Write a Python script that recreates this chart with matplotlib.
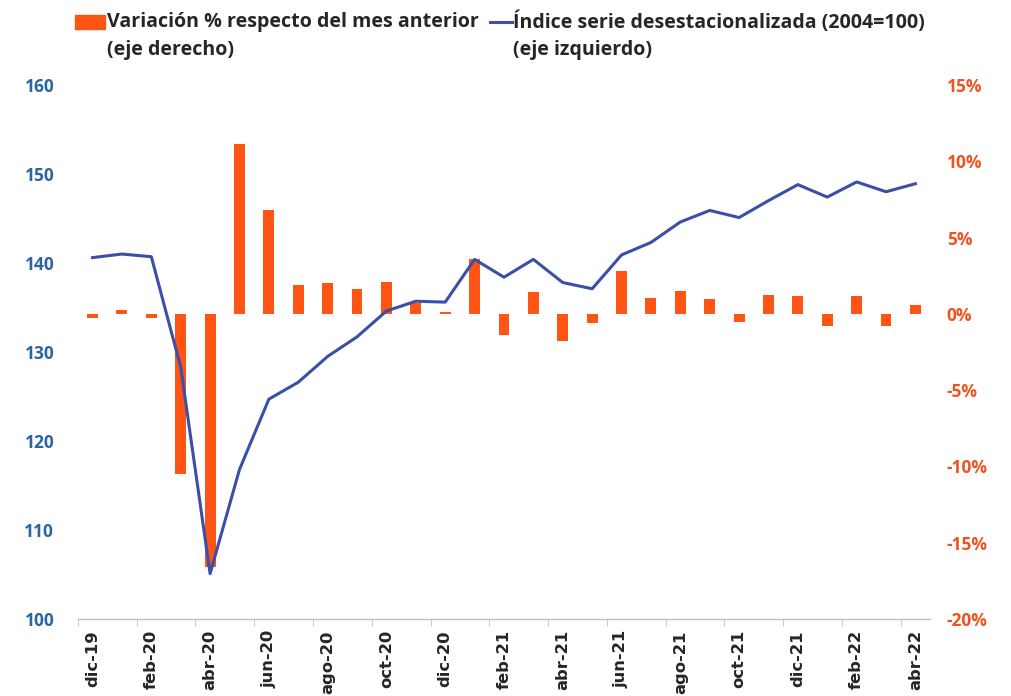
import matplotlib
matplotlib.use("Agg")
import matplotlib.pyplot as plt
from matplotlib.patches import Rectangle
from matplotlib.lines import Line2D
from matplotlib.ticker import FuncFormatter
import numpy as np

MONTHS = ['dic-19', 'ene-20', 'feb-20', 'mar-20', 'abr-20', 'may-20', 'jun-20',
          'jul-20', 'ago-20', 'sep-20', 'oct-20', 'nov-20', 'dic-20', 'ene-21',
          'feb-21', 'mar-21', 'abr-21', 'may-21', 'jun-21', 'jul-21', 'ago-21',
          'sep-21', 'oct-21', 'nov-21', 'dic-21', 'ene-22', 'feb-22', 'mar-22',
          'abr-22']

# seasonally adjusted index (2004=100), left axis
INDEX = [140.6, 141.0, 140.7, 128.3, 105.1, 116.8, 124.7, 126.6, 129.5, 131.7,
         134.6, 135.7, 135.6, 140.4, 138.4, 140.4, 137.8, 137.1, 140.9, 142.3,
         144.6, 145.9, 145.1, 147.0, 148.8, 147.4, 149.1, 148.0, 148.9]

# month-on-month change (%), right axis
VAR_PCT = [-0.3, 0.25, -0.3, -10.5, -16.6, 11.1, 6.8, 1.9, 2.0, 1.6,
           2.1, 0.7, 0.1, 3.6, -1.4, 1.4, -1.8, -0.6, 2.8, 1.05,
           1.5, 0.95, -0.55, 1.25, 1.2, -0.8, 1.15, -0.8, 0.55]

BAR_COLOR = '#FF5413'
LINE_COLOR = '#3B4FA6'
LEFT_TXT = '#2B65A4'
RIGHT_TXT = '#EE5420'
LEG_FONT = dict(fontsize=14.1, fontweight='bold', color='#262626', va='center',
                family='Open Sans')

x = np.arange(len(MONTHS))

fig = plt.figure(figsize=(10.11, 6.96), dpi=100)
ax_bar = fig.add_axes([0.077, 0.1106, 0.843, 0.7674])
ax_line = ax_bar.twinx()

ax_bar.bar(x, np.array(VAR_PCT) / 100, width=0.37, color=BAR_COLOR, zorder=2)
ax_line.plot(x, INDEX, color=LINE_COLOR, linewidth=2.2, zorder=3)

ax_bar.set_xlim(-0.5, len(MONTHS) - 0.5)
ax_bar.set_ylim(-0.20, 0.15)
ax_line.set_ylim(100, 160)

# right axis = bars, left axis = line
ax_bar.yaxis.tick_right()
ax_line.yaxis.tick_left()
ax_bar.set_yticks(np.arange(-0.20, 0.151, 0.05))
ax_bar.yaxis.set_major_formatter(FuncFormatter(lambda v, p: f'{round(v*100):d}%'))
ax_line.set_yticks(np.arange(100, 161, 10))

for a in (ax_bar, ax_line):
    for s in ('left', 'right', 'top'):
        a.spines[s].set_visible(False)
ax_line.spines['bottom'].set_visible(False)
ax_bar.spines['bottom'].set_color('#BFBFBF')
ax_bar.spines['bottom'].set_linewidth(1.0)

ax_bar.tick_params(axis='y', length=0, pad=12, labelsize=12.5, labelcolor=RIGHT_TXT)
ax_line.tick_params(axis='y', length=0, pad=17, labelsize=12.5, labelcolor=LEFT_TXT)
for lab in ax_bar.get_yticklabels() + ax_line.get_yticklabels():
    lab.set_fontweight('bold')
    lab.set_fontfamily('Open Sans')

# x axis: label every other month, tick marks at category boundaries
ax_bar.set_xticks(x[::2])
ax_bar.set_xticklabels(MONTHS[::2], rotation=90, fontsize=11.8, fontweight='bold',
                       color='#262626')
ax_bar.tick_params(axis='x', which='major', length=0, pad=8)
ax_bar.set_xticks(np.arange(-0.5, len(MONTHS), 2), minor=True)
ax_bar.tick_params(axis='x', which='minor', length=5, color='#BFBFBF', direction='out')

# legend drawn by hand at the top
fig.patches.append(Rectangle((0.074, 0.958), 0.030, 0.021, transform=fig.transFigure,
                             color=BAR_COLOR))
fig.text(0.106, 0.968, 'Variación % respecto del mes anterior', **LEG_FONT)
fig.text(0.106, 0.928, '(eje derecho)', **LEG_FONT)
fig.lines.append(Line2D([0.485, 0.506], [0.968, 0.968], transform=fig.transFigure,
                        color=LINE_COLOR, linewidth=2.2))
fig.text(0.507, 0.968, 'Índice serie desestacionalizada (2004=100)', **LEG_FONT)
fig.text(0.507, 0.928, '(eje izquierdo)', **LEG_FONT)

fig.savefig('out.png', dpi=100)
